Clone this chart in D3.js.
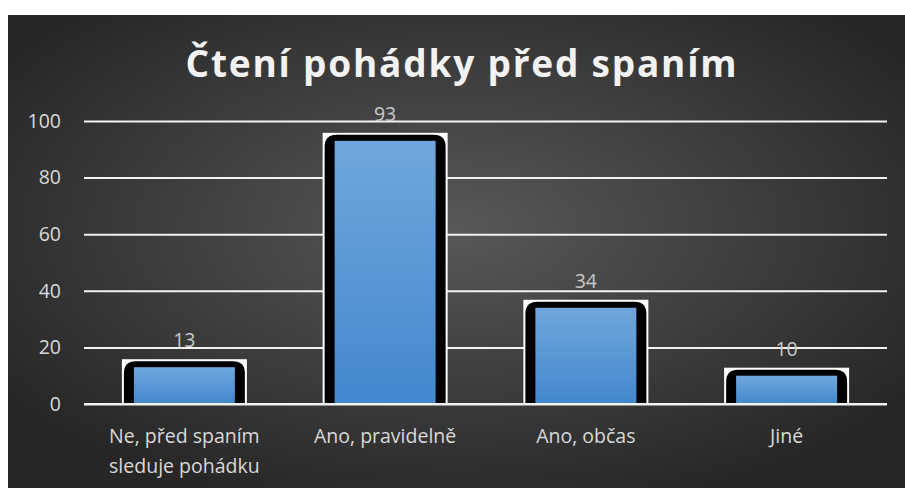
<!DOCTYPE html>
<html>
<head>
<meta charset="utf-8">
<script src="https://cdn.jsdelivr.net/npm/d3@7"></script>
<style>
  body { margin: 0; background: #fff; }
  svg { display: block; }
  text { font-family: "Open Sans", sans-serif; }
</style>
</head>
<body>
<script>
// data
const categories = [['Ne, před spaním', 'sleduje pohádku'], ['Ano, pravidelně'], ['Ano, občas'], ['Jiné']]
const values = [13, 93, 34, 10]
const yTicks = [0, 20, 40, 60, 80, 100]
const title = 'Čtení pohádky před spaním'

const W = 905, H = 488
const margin = { top: 121, right: 18, bottom: 84, left: 84 }

const svg = d3.select('body').append('svg')
  .attr('width', W).attr('height', H)

const defs = svg.append('defs')
const bg = defs.append('radialGradient').attr('id', 'bg')
  .attr('cx', '50%').attr('cy', '45%').attr('r', '62%')
bg.append('stop').attr('offset', '0%').attr('stop-color', '#585858')
bg.append('stop').attr('offset', '100%').attr('stop-color', '#262626')

const barGrad = defs.append('linearGradient').attr('id', 'bar')
  .attr('x1', 0).attr('y1', 0).attr('x2', 0).attr('y2', 1)
barGrad.append('stop').attr('offset', '0%').attr('stop-color', '#70a7dd')
barGrad.append('stop').attr('offset', '100%').attr('stop-color', '#4288cd')

// chart area
svg.append('rect')
  .attr('x', 8).attr('y', 15)
  .attr('width', W - 8).attr('height', H - 15)
  .attr('fill', 'url(#bg)')

const x = d3.scaleBand()
  .domain(d3.range(categories.length))
  .range([margin.left, W - margin.right])

const y = d3.scaleLinear()
  .domain([0, 100])
  .range([H - margin.bottom, margin.top])

// grid
const grid = svg.append('g')
  .attr('transform', `translate(${margin.left},0)`)
  .call(d3.axisLeft(y).tickValues(yTicks).tickSize(-(W - margin.left - margin.right)).tickFormat(''))
grid.select('.domain').remove()
grid.selectAll('line').attr('stroke', '#f2f2f2').attr('stroke-width', 2)

// tick labels
svg.append('g').selectAll('text')
  .data(yTicks)
  .join('text')
  .attr('x', 61)
  .attr('y', d => y(d))
  .attr('dy', '0.35em')
  .attr('text-anchor', 'end')
  .attr('fill', '#d9d9d9')
  .attr('font-size', 19.5)
  .text(d => d)

// bars
const bars = svg.append('g').selectAll('g')
  .data(values)
  .join('g')
  .attr('transform', (d, i) => `translate(${x(i) + x.bandwidth() / 2},0)`)

bars.append('rect')
  .attr('x', -62.5)
  .attr('y', d => y(d) - 8)
  .attr('width', 125)
  .attr('height', d => y(0) - y(d) + 9)
  .attr('fill', '#fff')

bars.append('path')
  .attr('d', d => {
    const t = y(d) - 6, b = y(0) + 1, l = -60.5, r = 60.5, rad = 12
    return `M${l},${b}V${t + rad}Q${l},${t} ${l + rad},${t}H${r - rad}Q${r},${t} ${r},${t + rad}V${b}Z`
  })
  .attr('fill', '#000')

bars.append('rect')
  .attr('x', -50.5)
  .attr('y', d => y(d))
  .attr('width', 101)
  .attr('height', d => y(0) - y(d))
  .attr('fill', 'url(#bar)')

bars.append('text')
  .attr('y', d => y(d) - 20)
  .attr('text-anchor', 'middle')
  .attr('fill', '#c8c8c8')
  .attr('font-size', 19.5)
  .text(d => d)

// baseline on top
svg.append('line')
  .attr('x1', margin.left).attr('x2', W - margin.right)
  .attr('y1', y(0)).attr('y2', y(0))
  .attr('stroke', '#f2f2f2').attr('stroke-width', 2)

// category labels
svg.append('g').selectAll('text')
  .data(categories)
  .join('text')
  .attr('x', (d, i) => x(i) + x.bandwidth() / 2)
  .attr('y', 443)
  .attr('text-anchor', 'middle')
  .attr('fill', '#d9d9d9')
  .attr('font-size', 19.5)
  .selectAll('tspan')
  .data(d => d)
  .join('tspan')
  .attr('x', function () { return this.parentNode.getAttribute('x') })
  .attr('dy', (d, i) => i ? 30 : 0)
  .text(d => d)

svg.append('text')
  .attr('x', 462)
  .attr('y', 77)
  .attr('text-anchor', 'middle')
  .attr('fill', '#f2f2f2')
  .attr('font-size', 37)
  .attr('font-weight', 'bold')
  .attr('letter-spacing', 1.8)
  .text(title)
</script>
</body>
</html>
